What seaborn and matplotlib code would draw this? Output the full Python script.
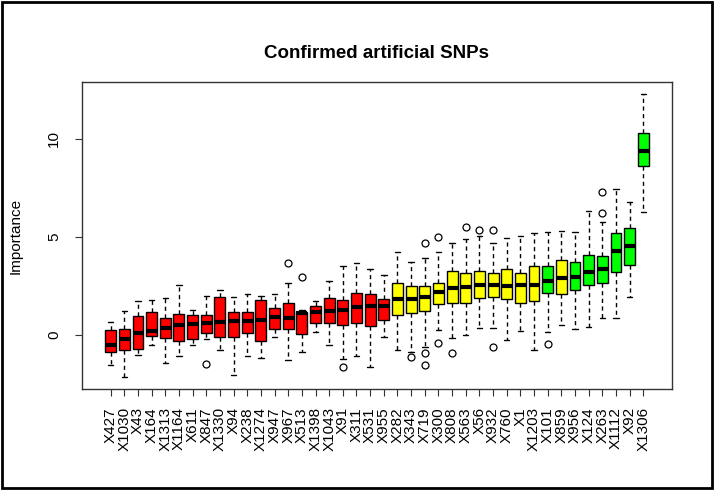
import pandas as pd
import matplotlib.pyplot as plt
import seaborn as sns
from matplotlib.patches import Rectangle

sns.set_theme(style="ticks")
plt.rcParams['font.family'] = ['Liberation Sans', 'DejaVu Sans']
plt.rcParams['text.color'] = 'black'
plt.rcParams['axes.labelcolor'] = 'black'

# Boruta importance per feature (five-number summary)
features = ["X427", "X1030", "X43", "X164", "X1313", "X1164", "X611", "X847",
            "X1330", "X94", "X238", "X1274", "X947", "X967", "X513", "X1398",
            "X1043", "X91", "X311", "X531", "X955", "X282", "X343", "X719",
            "X300", "X808", "X563", "X56", "X932", "X760", "X1", "X1203",
            "X101", "X859", "X956", "X124", "X263", "X1112", "X92", "X1306"]

status = (["Rejected"] * 21 + ["Tentative"] * 11
          + ["Confirmed", "Tentative"] + ["Confirmed"] * 6)

whisker_hi = [0.65, 1.22, 1.73, 1.79, 1.87, 2.57, 1.28, 2.01, 2.30, 1.95,
              2.07, 1.99, 2.07, 2.64, 1.28, 1.75, 2.76, 3.49, 3.66, 3.37,
              3.06, 4.25, 3.74, 3.94, 4.22, 4.71, 4.88, 5.05, 4.68, 4.93,
              5.02, 5.19, 5.27, 5.32, 5.27, 6.33, 5.78, 7.43, 6.80, 12.30]
q3 = [0.26, 0.31, 0.97, 1.17, 0.87, 1.09, 1.00, 1.00, 1.94, 1.19,
      1.19, 1.79, 1.39, 1.65, 1.19, 1.48, 1.90, 1.79, 2.13, 2.07,
      1.82, 2.67, 2.52, 2.52, 2.67, 3.28, 3.18, 3.28, 3.18, 3.35,
      3.15, 3.49, 3.49, 3.83, 3.72, 4.10, 4.00, 5.20, 5.47, 10.32]
median = [-0.54, -0.19, 0.12, 0.22, 0.37, 0.53, 0.56, 0.61, 0.65, 0.71,
          0.71, 0.78, 0.90, 0.88, 1.14, 1.17, 1.22, 1.26, 1.41, 1.48,
          1.48, 1.82, 1.82, 1.95, 2.21, 2.38, 2.46, 2.54, 2.54, 2.52,
          2.57, 2.57, 2.77, 2.92, 2.97, 3.23, 3.37, 4.29, 4.56, 9.40]
q1 = [-0.85, -0.78, -0.70, -0.05, -0.14, -0.32, -0.22, 0.09, -0.12, -0.09,
      0.09, -0.29, 0.29, 0.29, 0.05, 0.60, 0.60, 0.51, 0.60, 0.43,
      0.77, 1.04, 1.11, 1.24, 1.56, 1.65, 1.65, 1.90, 1.95, 1.84,
      1.65, 1.75, 2.13, 2.09, 2.30, 2.57, 2.67, 3.21, 3.59, 8.59]
whisker_lo = [-1.53, -2.16, -1.00, -0.49, -1.41, -1.10, -0.54, -0.22, -0.77, -2.04,
              -1.07, -1.16, -0.09, -1.28, -0.85, 0.17, -0.51, -1.24, -1.07, -1.62,
              -0.12, -0.77, -0.85, -0.60, 0.26, -0.17, -0.02, 0.36, 0.36, -0.26,
              0.22, -0.77, 0.17, 0.48, 0.32, 0.42, 0.88, 0.88, 1.95, 6.26]

outlier_feature = ["X847", "X967", "X513", "X91", "X343", "X719", "X719", "X719",
                   "X300", "X300", "X808", "X563", "X56", "X932", "X932",
                   "X101", "X263", "X263"]
outlier_value = [-1.46, 3.69, 2.94, -1.65, -1.14, 4.68, -0.90, -1.56,
                 4.97, -0.39, -0.94, 5.49, 5.36, 5.36, -0.63,
                 -0.46, 7.31, 6.24]

palette = {"Rejected": "#FF0000", "Tentative": "#FFFF00", "Confirmed": "#00FF00"}

rows = []
for i, f in enumerate(features):
    for v in (whisker_lo[i], q1[i], median[i], q3[i], whisker_hi[i]):
        rows.append({"feature": f, "importance": v, "status": status[i]})
df = pd.DataFrame(rows)
out_df = pd.DataFrame({"feature": outlier_feature, "importance": outlier_value})

fig = plt.figure(figsize=(7.16, 4.91), dpi=100)
ax = fig.add_axes([0.1145, 0.2077, 0.824, 0.6253])

sns.boxplot(data=df, x="feature", y="importance", hue="status", order=features,
            palette=palette, saturation=1, width=0.8, dodge=False,
            whis=(0, 100), showfliers=False, linecolor="black", linewidth=1,
            medianprops={"linewidth": 3, "color": "black"},
            whiskerprops={"linestyle": (0, (3, 2.5))},
            legend=False, ax=ax)
sns.stripplot(data=out_df, x="feature", y="importance", order=features,
              jitter=False, color="white", edgecolor="black", linewidth=0.9,
              size=5, ax=ax, zorder=3)

ax.set_xlim(-2.1, 41.1)
ax.set_ylim(-2.76, 12.9)
ax.set_yticks([0, 5, 10])
ax.set_xlabel("")
ax.set_ylabel("Importance", fontsize=11)
ax.yaxis.set_label_coords(-0.1, 0.5)
ax.set_title("Confirmed artificial SNPs", fontsize=13.5, fontweight="bold",
             color="black", pad=17)

ax.tick_params(axis="both", length=5, width=0.8, color="#333333", labelsize=11,
               labelcolor="black")
ax.tick_params(axis="x", labelrotation=90, pad=8)
ax.tick_params(axis="y", labelrotation=90, pad=10)
for lab in ax.get_yticklabels():
    lab.set_va("center")
for sp in ax.spines.values():
    sp.set_color("#333333")
    sp.set_linewidth(1)

# dark frame round the whole picture
fig.add_artist(Rectangle((0.003, 0.006), 0.992, 0.99, transform=fig.transFigure,
                         fill=False, edgecolor="black", linewidth=2))

plt.savefig("out.png", dpi=100)
plt.close()
